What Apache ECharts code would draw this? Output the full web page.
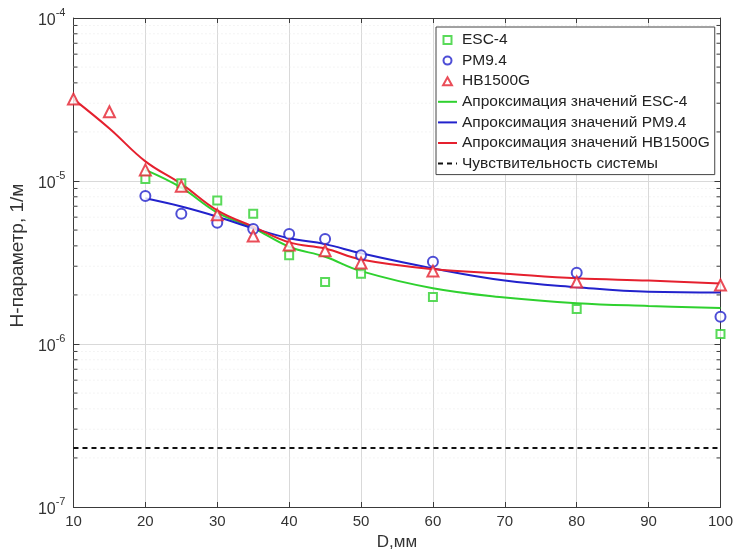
<!DOCTYPE html>
<html><head><meta charset="utf-8">
<script src="https://cdn.jsdelivr.net/npm/echarts@6/dist/echarts.min.js"></script>
<style>html,body{margin:0;padding:0;background:#fff}#c{width:736px;height:556px}</style>
</head><body><div id="c"></div>
<script>
// ---- data ----
const xEsc = [20, 25, 30, 35, 40, 45, 50, 60, 80, 100];
const yEsc = [1.03e-5, 9.7e-6, 7.6e-6, 6.3e-6, 3.5e-6, 2.4e-6, 2.7e-6, 1.94e-6, 1.64e-6, 1.15e-6];
const xPm = [20, 25, 30, 35, 40, 45, 50, 60, 80, 100];
const yPm = [8.1e-6, 6.3e-6, 5.55e-6, 5.07e-6, 4.73e-6, 4.4e-6, 3.5e-6, 3.2e-6, 2.74e-6, 1.47e-6];
const xHb = [10, 15, 20, 25, 30, 35, 40, 45, 50, 60, 80, 100];
const yHb = [3.18e-5, 2.66e-5, 1.17e-5, 9.3e-6, 6.2e-6, 4.6e-6, 4.05e-6, 3.73e-6, 3.14e-6, 2.8e-6, 2.4e-6, 2.3e-6];

const xFitEsc = [20, 25, 30, 35, 40, 45, 50, 60, 70, 80, 90, 100];
const yFitEsc = [1.17e-5, 9.1e-6, 6.4e-6, 5.15e-6, 3.95e-6, 3.43e-6, 2.8e-6, 2.2e-6, 1.93e-6, 1.78e-6, 1.71e-6, 1.66e-6];
const xFitPm = [20, 25, 30, 35, 40, 45, 50, 60, 70, 80, 90, 100];
const yFitPm = [7.83e-6, 6.97e-6, 6.04e-6, 5.13e-6, 4.45e-6, 4.1e-6, 3.6e-6, 2.91e-6, 2.45e-6, 2.23e-6, 2.09e-6, 2.07e-6];
const xFitHb = [10, 15, 20, 25, 30, 35, 40, 45, 50, 60, 70, 80, 90, 100];
const yFitHb = [3.18e-5, 2.1e-5, 1.32e-5, 9.6e-6, 6.6e-6, 5.25e-6, 4.2e-6, 3.85e-6, 3.3e-6, 2.88e-6, 2.7e-6, 2.53e-6, 2.45e-6, 2.35e-6];

const xSens = [10, 100];
const ySens = [2.3e-7, 2.3e-7];

const names = ['ESC-4', 'PM9.4', 'HB1500G',
  'Апроксимация значений ESC-4', 'Апроксимация значений PM9.4',
  'Апроксимация значений HB1500G', 'Чувствительность системы'];
const xAxisName = 'D,мм';
const yAxisName = 'H-параметр, 1/м';
const xTicks = [10, 20, 30, 40, 50, 60, 70, 80, 90, 100];
const yDecades = [1e-7, 1e-6, 1e-5, 1e-4];
const yMinorTicks = [];
for (let d = 0; d < yDecades.length - 1; d++) for (let m = 2; m <= 9; m++) yMinorTicks.push(m * yDecades[d]);

// ---- build ----
const pairs = (xs, ys) => xs.map((x, i) => [x, ys[i]]);
const C_G = '#2fd12f', C_B = '#2222cc', C_R = '#e5202e';
const FONT = 'Liberation Sans, Arial, sans-serif';
const ICON_SQ = 'path://M0,0 L10,0 L10,10 L0,10 Z';
const ICON_CI = 'path://M5,0 A5,5 0 1,1 5,10 A5,5 0 1,1 5,0 Z';
const ICON_TR = 'path://M5,0 L10,9 L0,9 Z';

const chart = echarts.init(document.getElementById('c'), null, {renderer: 'canvas'});
const axisLine = {show: true, lineStyle: {color: '#3a3a3a', width: 1}};
const hideDot = {opacity: 0};
const option = {
  backgroundColor: '#fff',
  animation: false,
  textStyle: {fontFamily: FONT},
  grid: {left: 72, right: 14, top: 18, bottom: 49, containLabel: false},
  xAxis: [{
    type: 'value', min: 10, max: 100, interval: 10,
    name: xAxisName, nameLocation: 'middle', nameGap: 27,
    nameTextStyle: {fontSize: 17, color: '#333', fontFamily: FONT},
    axisLine: axisLine,
    axisTick: {show: true, inside: true, length: 5, lineStyle: {color: '#3a3a3a'}},
    axisLabel: {fontSize: 15, color: '#333', margin: 7, fontFamily: FONT,
      formatter: v => xTicks.includes(v) ? String(v) : ''},
    splitLine: {show: true, lineStyle: {color: '#d9d9d9', width: 1}}
  }, {
    type: 'value', min: 10, max: 100, interval: 10, position: 'top',
    axisLine: axisLine,
    axisTick: {show: true, inside: true, length: 5, lineStyle: {color: '#3a3a3a'}},
    axisLabel: {show: false}, splitLine: {show: false}
  }],
  yAxis: [{
    type: 'log', logBase: 10, min: yDecades[0], max: yDecades[yDecades.length - 1],
    name: yAxisName, nameLocation: 'middle', nameGap: 40, nameRotate: 90,
    nameTextStyle: {fontSize: 19, color: '#333', fontFamily: FONT, padding: [0, 0, 0, 14]},
    axisLine: axisLine,
    axisTick: {show: true, inside: true, length: 6, lineStyle: {color: '#3a3a3a'}},
    axisLabel: {
      margin: 8, color: '#333', fontFamily: FONT,
      formatter: v => '{b|10}{s|' + Math.round(Math.log10(v)) + '}',
      rich: {
        b: {fontSize: 16, color: '#333', fontFamily: FONT, verticalAlign: 'bottom'},
        s: {fontSize: 11, color: '#333', fontFamily: FONT, verticalAlign: 'top', padding: [0, 0, 10, 0]}
      }
    },
    splitLine: {show: true, lineStyle: {color: '#d9d9d9', width: 1}}
  }, {
    type: 'log', logBase: 10, min: yDecades[0], max: yDecades[yDecades.length - 1], position: 'right',
    axisLine: axisLine,
    axisTick: {show: true, inside: true, length: 6, lineStyle: {color: '#3a3a3a'}},
    axisLabel: {show: false}, splitLine: {show: false}
  }],
  legend: {
    orient: 'vertical', left: 436, top: 27,
    data: [
      {name: names[0], icon: ICON_SQ, itemStyle: {color: '#fff', borderColor: C_G, borderWidth: 2}},
      {name: names[1], icon: ICON_CI, itemStyle: {color: '#fff', borderColor: C_B, borderWidth: 2}},
      {name: names[2], icon: ICON_TR, itemStyle: {color: '#fff', borderColor: C_R, borderWidth: 2}},
      {name: names[3], itemStyle: hideDot},
      {name: names[4], itemStyle: hideDot},
      {name: names[5], itemStyle: hideDot},
      {name: names[6], itemStyle: hideDot}
    ],
    backgroundColor: '#fff', borderColor: '#444', borderWidth: 1,
    padding: [5, 5, 3, 1],
    itemWidth: 19, itemHeight: 8, itemGap: 4.6,
    textStyle: {fontSize: 15.5, color: '#222', fontFamily: FONT, lineHeight: 15},
    selectedMode: false
  },
  series: [
    {
      type: 'custom', name: 'minor', silent: true, z: 1,
      data: yMinorTicks.map(v => [10, v]),
      renderItem: (params, api) => {
        const v = api.value(1);
        const p0 = api.coord([10, v]);
        const p1 = api.coord([100, v]);
        return {type: 'group', children: [
          {type: 'line', shape: {x1: p0[0], y1: p0[1], x2: p1[0], y2: p1[1]},
           style: {stroke: '#e8e8e8', lineWidth: 1, lineDash: [1, 3]}},
          {type: 'line', shape: {x1: p0[0], y1: p0[1], x2: p0[0] + 4, y2: p0[1]},
           style: {stroke: '#3a3a3a', lineWidth: 1}},
          {type: 'line', shape: {x1: p1[0] - 4, y1: p1[1], x2: p1[0], y2: p1[1]},
           style: {stroke: '#3a3a3a', lineWidth: 1}}
        ]};
      }
    },
    {type: 'line', name: names[3], data: pairs(xFitEsc, yFitEsc), smooth: 0.4, symbol: 'none',
     lineStyle: {color: C_G, width: 2}, itemStyle: {color: C_G}, z: 3},
    {type: 'line', name: names[4], data: pairs(xFitPm, yFitPm), smooth: 0.4, symbol: 'none',
     lineStyle: {color: C_B, width: 2}, itemStyle: {color: C_B}, z: 3},
    {type: 'line', name: names[5], data: pairs(xFitHb, yFitHb), smooth: 0.4, symbol: 'none',
     lineStyle: {color: C_R, width: 2}, itemStyle: {color: C_R}, z: 3},
    {type: 'line', name: names[6], data: pairs(xSens, ySens), symbol: 'none',
     lineStyle: {color: '#111', width: 2, type: [5, 4]}, itemStyle: {color: '#111'}, z: 3},
    {type: 'scatter', name: names[0], data: pairs(xEsc, yEsc), symbol: 'emptyRect', symbolSize: 8,
     itemStyle: {color: C_G, borderColor: C_G, borderWidth: 1.5}, z: 5},
    {type: 'scatter', name: names[1], data: pairs(xPm, yPm), symbol: 'emptyCircle', symbolSize: 10,
     itemStyle: {color: C_B, borderColor: C_B, borderWidth: 1.5}, z: 5},
    {type: 'scatter', name: names[2], data: pairs(xHb, yHb), symbol: 'emptyTriangle', symbolSize: 11,
     itemStyle: {color: C_R, borderColor: C_R, borderWidth: 1.5}, z: 5}
  ]
};
chart.setOption(option);
</script>
</body></html>
